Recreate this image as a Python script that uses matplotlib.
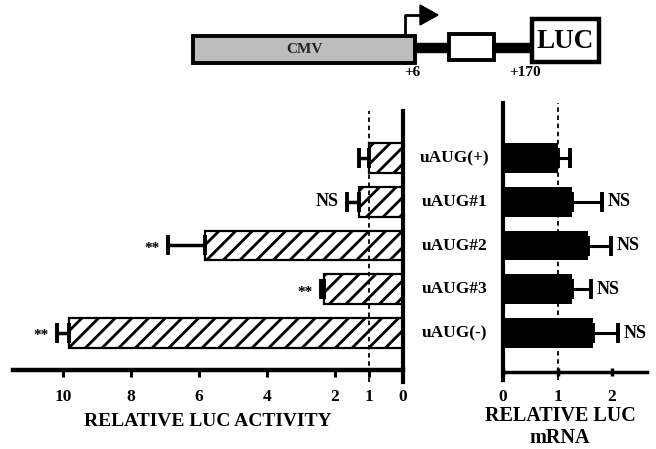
import matplotlib
matplotlib.use('Agg')
import matplotlib.pyplot as plt
import matplotlib.patches as patches

plt.rcParams['font.family'] = ['Liberation Serif', 'DejaVu Serif']
plt.rcParams['font.weight'] = 'bold'
plt.rcParams['hatch.linewidth'] = 2.0

# Data
categories = ['uAUG(+)', 'uAUG#1', 'uAUG#2', 'uAUG#3', 'uAUG(-)']
activity = [1.0, 1.29, 5.82, 2.32, 9.82]
activity_err = [0.28, 0.36, 1.09, 0.09, 0.36]
activity_sig = ['', 'NS', '**', '**', '**']
mrna = [1.0, 1.27, 1.56, 1.27, 1.65]
mrna_err = [0.23, 0.55, 0.42, 0.34, 0.46]
mrna_sig = ['', 'NS', 'NS', 'NS', 'NS']
activity_ticks = [10, 8, 6, 4, 2, 1, 0]
mrna_ticks = [0, 1, 2]

W, H = 656, 449
fig = plt.figure(figsize=(W / 100, H / 100), dpi=100)


def px_box(x0, y0, x1, y1):
    return [x0 / W, 1 - y1 / H, (x1 - x0) / W, (y1 - y0) / H]


ypos = list(range(len(categories)))
zeros = [0] * len(categories)

# ── top schematic (pixel coords) ──
ax0 = fig.add_axes([0, 0, 1, 1])
ax0.set_xlim(0, W)
ax0.set_ylim(H, 0)
ax0.axis('off')

ax0.plot([413, 450], [48, 48], color='black', lw=7.5, solid_capstyle='butt')
ax0.plot([493, 532], [48, 48], color='black', lw=7.5, solid_capstyle='butt')
ax0.add_patch(patches.Rectangle((193, 36), 222, 27, facecolor='#bdbdbd',
                                edgecolor='black', linewidth=2.8))
ax0.text(304, 49.5, 'CMV', ha='center', va='center', fontsize=11, color='#222222')
ax0.add_patch(patches.Rectangle((449, 34), 45, 26, facecolor='white',
                                edgecolor='black', linewidth=2.8))
ax0.add_patch(patches.Rectangle((532, 19), 67, 43, facecolor='white',
                                edgecolor='black', linewidth=3.2))
ax0.text(565, 41, 'LUC', ha='center', va='center', fontsize=19.5)
ax0.plot([405, 405, 422], [36, 15, 15], color='black', lw=2)
ax0.add_patch(patches.Polygon([(420, 5), (438, 15), (420, 25)], closed=True,
                              facecolor='black', edgecolor='black'))
ax0.text(412, 73, '+6', ha='center', va='center', fontsize=11)
ax0.text(525, 73, '+170', ha='center', va='center', fontsize=11)

# ── left: relative LUC activity ──
ax1 = fig.add_axes(px_box(13, 111, 403, 382))
ax1.patch.set_alpha(0)
ax1.barh(ypos, activity, height=0.68, color='white', edgecolor='black',
         hatch='//', linewidth=1.6)
ax1.errorbar(activity, ypos, xerr=[zeros, activity_err], fmt='none',
             ecolor='black', elinewidth=2.5, capsize=7, capthick=2.8)
ax1.axvline(1, color='black', lw=1.3, ls=(0, (2.5, 2)))
ax1.set_xlim(11.47, 0)
ax1.set_ylim(5.12, -1.074)
for s in ['left', 'top']:
    ax1.spines[s].set_visible(False)
ax1.spines['right'].set_linewidth(3)
ax1.spines['bottom'].set_linewidth(3.2)
ax1.spines['bottom'].set_position(('data', 4.846))
ax1.set_yticks([])
ax1.set_xticks(activity_ticks)
ax1.set_xticklabels([str(t) for t in activity_ticks])
ax1.tick_params(axis='x', direction='out', length=5, width=2.2, pad=9, labelsize=12.5)
for i, (v, e, s) in enumerate(zip(activity, activity_err, activity_sig)):
    if s:
        fs = 13 if s == 'NS' else 11
        dy = 0 if s == 'NS' else -2
        ax1.annotate(s, xy=(v + e, i), xytext=(-6, dy), textcoords='offset points',
                     ha='right', va='center', fontsize=fs)

fig.text(208 / W, 1 - 421 / H, 'RELATIVE LUC ACTIVITY', ha='center', va='center',
         fontsize=14)

# ── right: relative LUC mRNA ──
ax2 = fig.add_axes(px_box(503, 103, 647, 380))
ax2.patch.set_alpha(0)
ax2.barh(ypos, mrna, height=0.68, color='black')
ax2.errorbar(mrna, ypos, xerr=[zeros, mrna_err], fmt='none',
             ecolor='black', elinewidth=2.2, capsize=7, capthick=2.8)
ax2.axvline(1, color='black', lw=1.3, ls=(0, (2.5, 2)), zorder=0)
ax2.set_xlim(0, 2.64)
ax2.set_ylim(5.074, -1.257)
for s in ['right', 'top']:
    ax2.spines[s].set_visible(False)
ax2.spines['left'].set_linewidth(3)
ax2.spines['bottom'].set_linewidth(2.5)
ax2.spines['bottom'].set_position(('data', 4.89))
ax2.set_yticks([])
ax2.set_xticks(mrna_ticks)
ax2.set_xticklabels([str(t) for t in mrna_ticks])
ax2.tick_params(axis='x', direction='inout', length=6, width=2.5, pad=9, labelsize=12.5)
for i, (v, e, s) in enumerate(zip(mrna, mrna_err, mrna_sig)):
    if s:
        ax2.annotate(s, xy=(v + e, i), xytext=(4, 0), textcoords='offset points',
                     ha='left', va='center', fontsize=13)

for i, c in enumerate(categories):
    ax2.text(-0.88, i, c, ha='center', va='center', fontsize=12.5)

fig.text(560 / W, 1 - 416 / H, 'RELATIVE LUC', ha='center', va='center', fontsize=14.5)
fig.text(560 / W, 1 - 438 / H, 'mRNA', ha='center', va='center', fontsize=14.5)

fig.savefig('out.png', dpi=100, facecolor='white')
